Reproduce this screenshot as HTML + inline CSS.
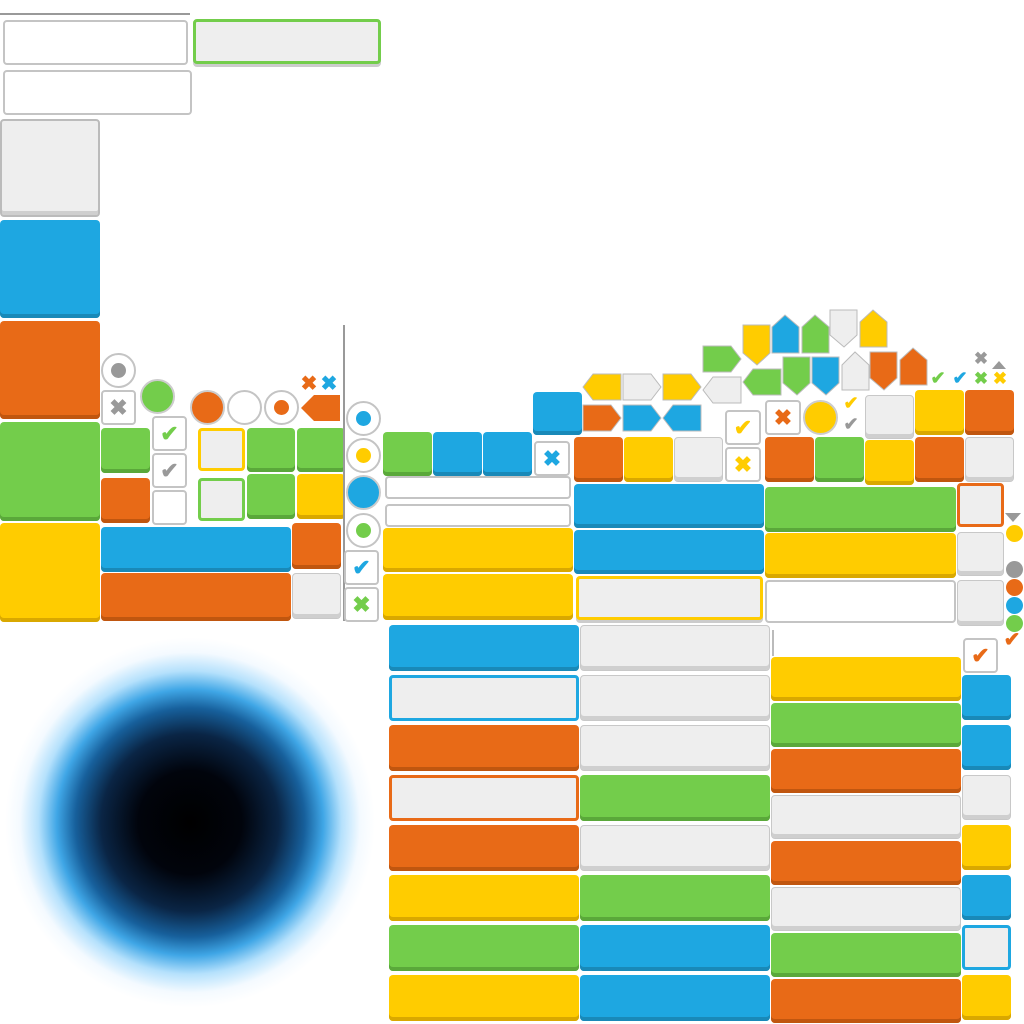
<!DOCTYPE html>
<html><head><meta charset="utf-8"><style>
body{margin:0;width:1024px;height:1024px;background:#fff;position:relative;overflow:hidden;font-family:"Liberation Sans",sans-serif}
div{position:absolute;box-sizing:border-box;border-radius:4px}
.b{background:#1ea7e1;box-shadow:inset 0 -4px #1989b8}
.o{background:#e86a17;box-shadow:inset 0 -4px #c0560f}
.g{background:#73cd4b;box-shadow:inset 0 -4px #5aa83a}
.y{background:#ffcc00;box-shadow:inset 0 -4px #d9a800}
.w{background:#eeeeee;box-shadow:inset 0 -4px #cfcfcf;border:1px solid #c8c8c8}
.ow{background:#fff;border:2px solid #c4c4c4}
.c{border-radius:50%}
.t{font-size:22px;font-weight:bold;text-align:center;line-height:32px}
svg{position:absolute}
</style></head><body>
<div style="left:0;top:13px;width:190px;height:2px;background:#999;border-radius:0"></div>
<div class="ow" style="left:3px;top:20px;width:185px;height:45px"></div>
<div style="left:193px;top:19px;width:188px;height:45px;background:#eee;border:3px solid #73cd4b;box-shadow:0 3px #ccc"></div>
<div class="ow" style="left:3px;top:70px;width:189px;height:45px"></div>
<div class="w" style="left:0;top:119px;width:100px;height:98px;border:2px solid #bbb"></div>
<div class="b" style="left:0;top:220px;width:100px;height:98px"></div>
<div class="o" style="left:0;top:321px;width:100px;height:98px"></div>
<div class="g" style="left:0;top:422px;width:100px;height:99px"></div>
<div class="y" style="left:0;top:523px;width:100px;height:99px"></div>
<div class="b" style="left:101px;top:527px;width:190px;height:45px"></div>
<div class="o" style="left:101px;top:573px;width:190px;height:48px"></div>
<div class="g" style="left:101px;top:428px;width:49px;height:45px"></div>
<div class="o" style="left:101px;top:478px;width:49px;height:45px"></div>
<div class="o" style="left:292px;top:523px;width:49px;height:46px"></div>
<div class="w" style="left:292px;top:573px;width:49px;height:46px"></div>
<div class="y" style="left:297px;top:474px;width:48px;height:45px"></div>
<div class="g" style="left:247px;top:474px;width:48px;height:45px"></div>
<div style="left:198px;top:478px;width:47px;height:43px;background:#eee;border:3px solid #73cd4b"></div>
<div style="left:198px;top:428px;width:47px;height:43px;background:#eee;border:3px solid #ffcc00"></div>
<div class="g" style="left:247px;top:428px;width:48px;height:44px"></div>
<div class="g" style="left:297px;top:428px;width:48px;height:44px"></div>
<!-- left icons -->
<div class="ow c" style="left:101px;top:353px;width:35px;height:35px"></div><div class="c" style="left:111px;top:363px;width:15px;height:15px;background:#999"></div>
<div class="ow t" style="left:101px;top:390px;width:35px;height:35px;color:#999">✖</div>
<div class="c" style="left:140px;top:379px;width:35px;height:35px;background:#73cd4b;border:2px solid #ccc"></div>
<div class="ow t" style="left:152px;top:416px;width:35px;height:35px;color:#73cd4b">✔</div>
<div class="ow t" style="left:152px;top:453px;width:35px;height:35px;color:#999">✔</div>
<div class="ow" style="left:152px;top:490px;width:35px;height:35px"></div>
<div class="c" style="left:190px;top:390px;width:35px;height:35px;background:#e86a17;border:2px solid #ccc"></div>
<div class="ow c" style="left:227px;top:390px;width:35px;height:35px"></div>
<div class="ow c" style="left:264px;top:390px;width:35px;height:35px"></div><div class="c" style="left:274px;top:400px;width:15px;height:15px;background:#e86a17"></div>
<svg style="left:301px;top:395px" width="40" height="27"><polygon points="0,13 13,0 39,0 39,26 13,26" fill="#e86a17"/></svg>
<div class="t" style="left:298px;top:368px;width:22px;height:26px;color:#e86a17;font-size:20px">✖</div>
<div class="t" style="left:318px;top:368px;width:22px;height:26px;color:#1ea7e1;font-size:20px">✖</div>
<div style="left:343px;top:325px;width:2px;height:296px;background:#999;border-radius:0"></div>
<div class="ow c" style="left:346px;top:401px;width:35px;height:35px"></div><div class="c" style="left:356px;top:411px;width:15px;height:15px;background:#1ea7e1"></div>
<div class="ow c" style="left:346px;top:438px;width:35px;height:35px"></div><div class="c" style="left:356px;top:448px;width:15px;height:15px;background:#ffcc00"></div>
<div class="c" style="left:346px;top:475px;width:35px;height:35px;background:#1ea7e1;border:2px solid #ccc"></div>
<div class="ow c" style="left:346px;top:513px;width:35px;height:35px"></div><div class="c" style="left:356px;top:523px;width:15px;height:15px;background:#73cd4b"></div>
<div class="ow t" style="left:344px;top:550px;width:35px;height:35px;color:#1ea7e1">✔</div>
<div class="ow t" style="left:344px;top:587px;width:35px;height:35px;color:#73cd4b">✖</div>
<!-- black hole -->
<div class="c" style="left:5px;top:630px;width:370px;height:385px;background:radial-gradient(circle closest-side,#000 0%,#01040c 28%,#0a2545 48%,#17609c 62%,#3fa6e6 72%,rgba(120,200,250,.55) 82%,rgba(200,230,255,.2) 92%,rgba(255,255,255,0) 100%)"></div>
<!-- middle -->
<div class="g" style="left:383px;top:432px;width:49px;height:44px"></div>
<div class="b" style="left:433px;top:432px;width:49px;height:44px"></div>
<div class="b" style="left:483px;top:432px;width:49px;height:44px"></div>
<div class="ow t" style="left:534px;top:441px;width:36px;height:35px;color:#1ea7e1">✖</div>
<div class="ow" style="left:385px;top:476px;width:186px;height:23px"></div>
<div class="ow" style="left:385px;top:504px;width:186px;height:23px"></div>
<div class="y" style="left:383px;top:528px;width:190px;height:44px"></div>
<div class="y" style="left:383px;top:574px;width:190px;height:46px"></div>
<div class="b" style="left:574px;top:484px;width:190px;height:44px"></div>
<div class="b" style="left:574px;top:530px;width:190px;height:44px"></div>
<div style="left:576px;top:576px;width:187px;height:44px;background:#eee;border:3px solid #ffcc00;box-shadow:0 3px #ccc"></div>
<div class="g" style="left:765px;top:487px;width:191px;height:45px"></div>
<div class="y" style="left:765px;top:533px;width:191px;height:45px"></div>
<div class="ow" style="left:765px;top:580px;width:191px;height:43px"></div>
<!-- col 389 -->
<div class="b" style="left:389px;top:625px;width:190px;height:46px"></div>
<div style="left:389px;top:675px;width:190px;height:46px;background:#eee;border:3px solid #1ea7e1"></div>
<div class="o" style="left:389px;top:725px;width:190px;height:46px"></div>
<div style="left:389px;top:775px;width:190px;height:46px;background:#eee;border:3px solid #e86a17"></div>
<div class="o" style="left:389px;top:825px;width:190px;height:46px"></div>
<div class="y" style="left:389px;top:875px;width:190px;height:46px"></div>
<div class="g" style="left:389px;top:925px;width:190px;height:46px"></div>
<div class="y" style="left:389px;top:975px;width:190px;height:46px"></div>
<!-- col 580 -->
<div class="w" style="left:580px;top:625px;width:190px;height:46px"></div>
<div class="w" style="left:580px;top:675px;width:190px;height:46px"></div>
<div class="w" style="left:580px;top:725px;width:190px;height:46px"></div>
<div class="g" style="left:580px;top:775px;width:190px;height:46px"></div>
<div class="w" style="left:580px;top:825px;width:190px;height:46px"></div>
<div class="g" style="left:580px;top:875px;width:190px;height:46px"></div>
<div class="b" style="left:580px;top:925px;width:190px;height:46px"></div>
<div class="b" style="left:580px;top:975px;width:190px;height:46px"></div>
<!-- col 771 -->
<div style="left:772px;top:630px;width:2px;height:26px;background:#bbb;border-radius:0"></div>
<div class="y" style="left:771px;top:657px;width:190px;height:44px"></div>
<div class="g" style="left:771px;top:703px;width:190px;height:44px"></div>
<div class="o" style="left:771px;top:749px;width:190px;height:44px"></div>
<div class="w" style="left:771px;top:795px;width:190px;height:44px"></div>
<div class="o" style="left:771px;top:841px;width:190px;height:44px"></div>
<div class="w" style="left:771px;top:887px;width:190px;height:44px"></div>
<div class="g" style="left:771px;top:933px;width:190px;height:44px"></div>
<div class="o" style="left:771px;top:979px;width:190px;height:44px"></div>
<!-- col 962 -->
<div style="left:957px;top:483px;width:47px;height:44px;background:#eee;border:3px solid #e86a17"></div>
<div class="w" style="left:957px;top:532px;width:47px;height:44px"></div>
<div class="w" style="left:957px;top:580px;width:47px;height:46px"></div>
<div class="ow t" style="left:963px;top:638px;width:35px;height:35px;color:#e86a17">✔</div>
<div class="b" style="left:962px;top:675px;width:49px;height:45px"></div>
<div class="b" style="left:962px;top:725px;width:49px;height:45px"></div>
<div class="w" style="left:962px;top:775px;width:49px;height:45px"></div>
<div class="y" style="left:962px;top:825px;width:49px;height:45px"></div>
<div class="b" style="left:962px;top:875px;width:49px;height:45px"></div>
<div style="left:962px;top:925px;width:49px;height:45px;background:#eee;border:3px solid #1ea7e1"></div>
<div class="y" style="left:962px;top:975px;width:49px;height:45px"></div>
<div class="c" style="left:1006px;top:525px;width:17px;height:17px;background:#ffcc00"></div>
<div class="c" style="left:1006px;top:561px;width:17px;height:17px;background:#999"></div>
<div class="c" style="left:1006px;top:579px;width:17px;height:17px;background:#e86a17"></div>
<div class="c" style="left:1006px;top:597px;width:17px;height:17px;background:#1ea7e1"></div>
<div class="c" style="left:1006px;top:615px;width:17px;height:17px;background:#73cd4b"></div>
<div class="t" style="left:1000px;top:628px;width:24px;height:24px;color:#e86a17;font-size:20px;line-height:24px">✔</div>
<!-- top right cluster -->
<div class="b" style="left:533px;top:392px;width:49px;height:43px"></div>
<div class="o" style="left:574px;top:437px;width:49px;height:45px"></div>
<div class="y" style="left:624px;top:437px;width:49px;height:45px"></div>
<div class="w" style="left:674px;top:437px;width:49px;height:45px"></div>
<div class="ow t" style="left:725px;top:410px;width:36px;height:35px;color:#ffcc00">✔</div>
<div class="ow t" style="left:725px;top:447px;width:36px;height:35px;color:#ffcc00">✖</div>
<div class="ow t" style="left:765px;top:400px;width:36px;height:35px;color:#e86a17">✖</div>
<div class="c" style="left:803px;top:400px;width:35px;height:35px;background:#ffcc00;border:2px solid #ccc"></div>
<div class="t" style="left:840px;top:392px;width:22px;height:22px;color:#ffcc00;font-size:18px;line-height:22px">✔</div>
<div class="t" style="left:840px;top:413px;width:22px;height:22px;color:#999;font-size:18px;line-height:22px">✔</div>
<div class="o" style="left:765px;top:437px;width:49px;height:45px"></div>
<div class="g" style="left:815px;top:437px;width:49px;height:45px"></div>
<div class="y" style="left:865px;top:440px;width:49px;height:45px"></div>
<div class="w" style="left:865px;top:395px;width:49px;height:44px"></div>
<div class="y" style="left:915px;top:390px;width:49px;height:45px"></div>
<div class="o" style="left:915px;top:437px;width:49px;height:45px"></div>
<div class="o" style="left:965px;top:390px;width:49px;height:45px"></div>
<div class="w" style="left:965px;top:437px;width:49px;height:45px"></div>
<svg style="left:580px;top:305px" width="440" height="130">
<g stroke="#bbb" stroke-width="1">
<polygon points="3,82 13,69 41,69 41,95 13,95" fill="#ffcc00"/>
<polygon points="43,69 71,69 81,82 71,95 43,95" fill="#eee"/>
<polygon points="83,69 111,69 121,82 111,95 83,95" fill="#ffcc00"/>
<polygon points="123,85 133,72 161,72 161,98 133,98" fill="#eee"/>
<polygon points="163,77 173,64 201,64 201,90 173,90" fill="#73cd4b"/>
<polygon points="123,41 151,41 161,54 151,67 123,67" fill="#73cd4b"/>
<polygon points="3,100 31,100 41,113 31,126 3,126" fill="#e86a17"/>
<polygon points="43,100 71,100 81,113 71,126 43,126" fill="#1ea7e1"/>
<polygon points="83,113 93,100 121,100 121,126 93,126" fill="#1ea7e1"/>
<polygon points="163,20 190,20 190,48 177,60 163,48" fill="#ffcc00"/>
<polygon points="192,22 205,10 219,22 219,48 192,48" fill="#1ea7e1"/>
<polygon points="222,22 235,10 249,22 249,48 222,48" fill="#73cd4b"/>
<polygon points="250,5 277,5 277,30 264,42 250,30" fill="#eee"/>
<polygon points="280,17 293,5 307,17 307,42 280,42" fill="#ffcc00"/>
<polygon points="203,52 230,52 230,78 217,90 203,78" fill="#73cd4b"/>
<polygon points="232,52 259,52 259,78 246,90 232,78" fill="#1ea7e1"/>
<polygon points="262,60 275,47 289,60 289,85 262,85" fill="#eee"/>
<polygon points="290,47 317,47 317,73 304,85 290,73" fill="#e86a17"/>
<polygon points="320,55 333,43 347,55 347,80 320,80" fill="#e86a17"/>
</g>
<polygon points="412,64 419,56 426,64" fill="#999"/>
</svg>
<div class="t" style="left:927px;top:366px;width:22px;height:24px;color:#73cd4b;font-size:18px;line-height:24px">✔</div>
<div class="t" style="left:949px;top:366px;width:22px;height:24px;color:#1ea7e1;font-size:18px;line-height:24px">✔</div>
<div class="t" style="left:970px;top:348px;width:22px;height:22px;color:#999;font-size:17px;line-height:22px">✖</div>
<div class="t" style="left:970px;top:368px;width:22px;height:22px;color:#73cd4b;font-size:17px;line-height:22px">✖</div>
<div class="t" style="left:989px;top:368px;width:22px;height:22px;color:#ffcc00;font-size:17px;line-height:22px">✖</div>
<svg style="left:1005px;top:513px" width="16" height="10"><polygon points="0,0 16,0 8,9" fill="#999"/></svg>
</body></html>
